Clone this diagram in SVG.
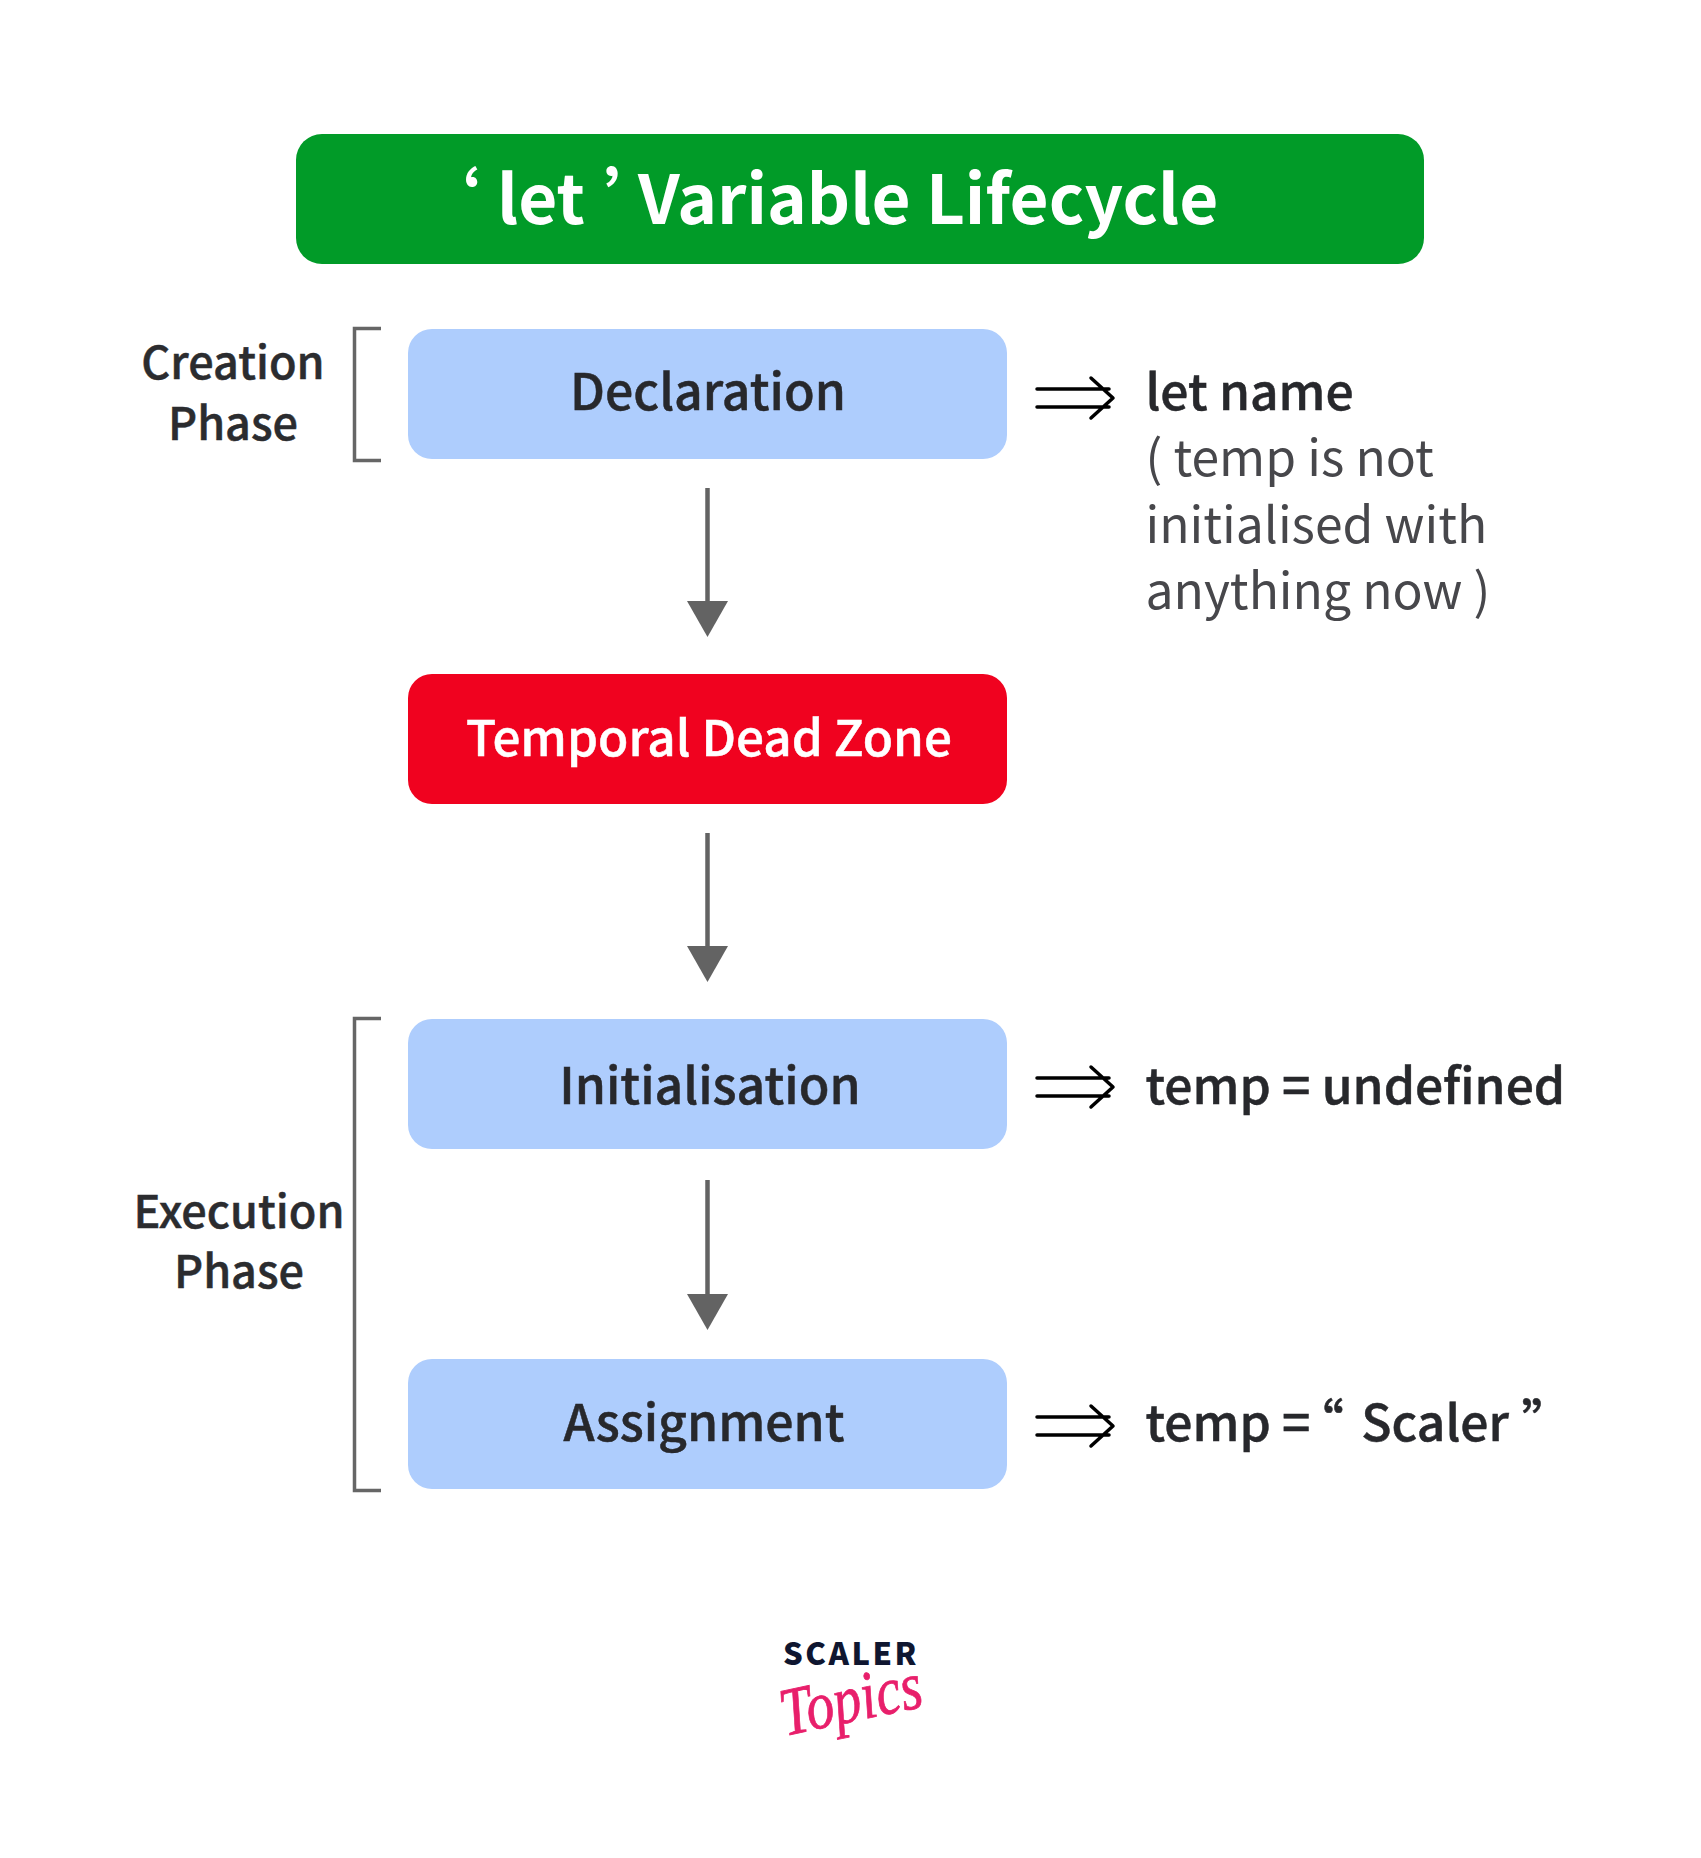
<svg xmlns="http://www.w3.org/2000/svg" width="1701" height="1858" viewBox="0 0 1701 1858">
<style>
text{font-family:"Noto Sans CJK SC","Noto Sans",sans-serif;font-feature-settings:"palt"}
.box{fill:#aecdfd}
.lbl{font-size:50px;font-weight:500;fill:#27282c;stroke:#27282c;stroke-width:.5px;text-anchor:middle}
.side{font-size:45px;font-weight:500;fill:#2b2c2f;stroke:#2b2c2f;stroke-width:.5px;text-anchor:middle}
.note{font-size:49.800px;fill:#27282c;stroke:#27282c;stroke-width:.5px;font-weight:500}
.sub{font-size:49.800px;fill:#47474b;font-weight:400}
.br{fill:none;stroke:#666;stroke-width:3.500}
.dbl{fill:none;stroke:#000;stroke-width:3.500;stroke-linecap:round;stroke-linejoin:round}
.ln{stroke:#636363;stroke-width:4.500}
</style>
<defs>
<g id="dbl"><path class="dbl" d="M1037 389H1109M1037 407H1109M1091 378L1113 398L1091 418"/></g>
</defs>
<rect width="1701" height="1858" fill="#fff"/>
<g id="connectors">
<path class="ln" d="M707.500 488V605"/><path fill="#636363" d="M687 601H728L707.500 637Z"/>
<path class="ln" d="M707.500 833V950"/><path fill="#636363" d="M687 946H728L707.500 982Z"/>
<path class="ln" d="M707.500 1180V1298"/><path fill="#636363" d="M687 1294H728L707.500 1330Z"/>
<use href="#dbl"/>
<use href="#dbl" y="689"/>
<use href="#dbl" y="1028"/>
</g>
<g id="title"><rect x="296" y="134" width="1128" height="130" rx="26" fill="#019b28"/>
<text y="224" font-size="67.400" font-weight="700" fill="#fff"><tspan x="445">‘</tspan><tspan x="497">let</tspan><tspan x="605">’</tspan><tspan x="638">Variable Lifecycle</tspan></text></g>
<g id="creation-phase"><path class="br" d="M381 328.500H354.500V460.500H381"/>
<text class="side" x="233" y="379">Creation</text><text class="side" x="233" y="440">Phase</text></g>
<g id="execution-phase"><path class="br" d="M381 1018.500H354.500V1490.500H381"/>
<text class="side" x="239" y="1228">Execution</text><text class="side" x="239" y="1288">Phase</text></g>
<g id="declaration"><rect class="box" x="408" y="329" width="599" height="130" rx="24"/>
<text class="lbl" x="708" y="410">Declaration</text></g>
<g id="temporal-dead-zone"><rect x="408" y="674" width="599" height="130" rx="24" fill="#f0021f"/>
<text class="lbl" x="709" y="756" style="fill:#fff;stroke:#fff;font-size:49.400px">Temporal Dead Zone</text></g>
<g id="initialisation"><rect class="box" x="408" y="1019" width="599" height="130" rx="24"/>
<text class="lbl" x="710" y="1104">Initialisation</text></g>
<g id="assignment"><rect class="box" x="408" y="1359" width="599" height="130" rx="24"/>
<text class="lbl" x="704" y="1441">Assignment</text></g>
<g id="note-declaration"><text class="note" x="1145.500" y="410">let name</text>
<text class="sub" x="1145.500" y="476">( temp is not</text>
<text class="sub" x="1145.500" y="543">initialised with</text>
<text class="sub" x="1145.500" y="609">anything now )</text></g>
<g id="note-initialisation"><text class="note" x="1145.500" y="1104">temp = undefined</text></g>
<g id="note-assignment"><text class="note" x="1145.500" y="1441">temp = <tspan dx="-3.500">“</tspan> <tspan dx="7">Scaler</tspan> <tspan dx="2">”</tspan></text></g>
<g id="logo"><text x="851" y="1665" font-size="31" font-weight="900" letter-spacing="2.500" fill="#0f1630" text-anchor="middle">SCALER</text>
<text transform="translate(785 1736) rotate(-12) scale(.82 1)" font-size="68" font-style="italic" fill="#e81f6b" stroke="#e81f6b" stroke-width="0.800" style="font-family:'Liberation Serif',serif">Topics</text></g>
</svg>
